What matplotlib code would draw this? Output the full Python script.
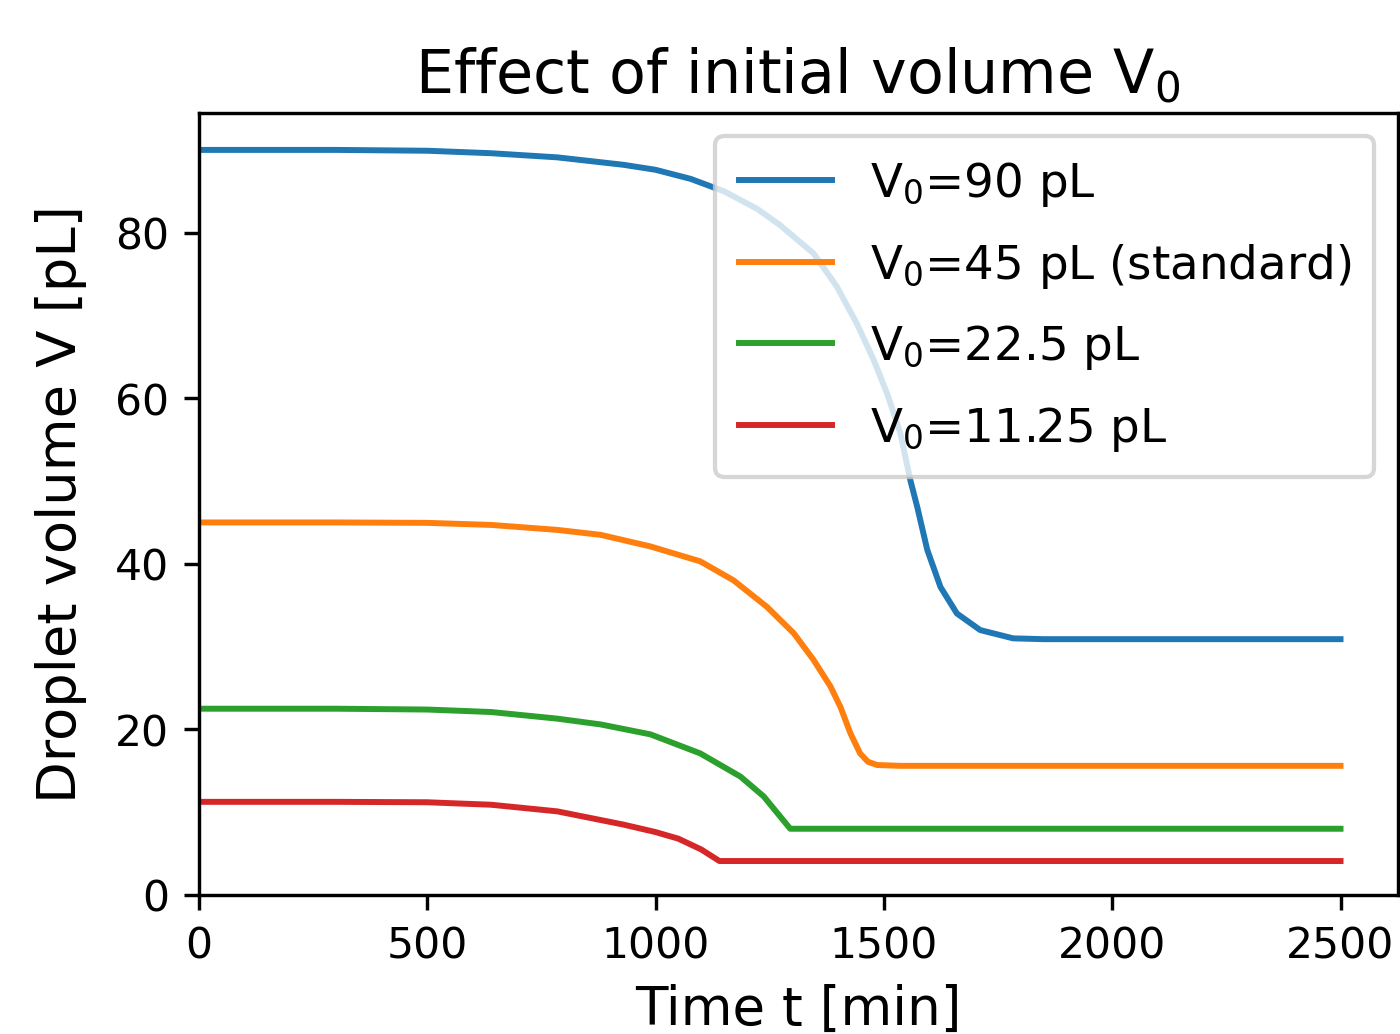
"""Droplet volume vs time for several initial volumes V0."""

import matplotlib
matplotlib.use("Agg")
import matplotlib.pyplot as plt

DPI = 306

# values (time in min, volume in pL)
t_90 = [0, 300, 500, 640, 785, 930, 1000, 1077, 1150, 1222, 1273, 1346, 1397,
        1441, 1478, 1507, 1536, 1558, 1573, 1595, 1624, 1660, 1711, 1783,
        1850, 2500]
v_90 = [90.0, 90.0, 89.9, 89.6, 89.1, 88.2, 87.6, 86.5, 85.0, 82.9, 80.9,
        77.5, 73.5, 69.0, 64.6, 60.6, 55.8, 50.1, 46.9, 41.7, 37.2, 34.0,
        32.0, 31.0, 30.9, 30.9]

t_45 = [0, 300, 500, 640, 785, 880, 989, 1098, 1171, 1244, 1303, 1346, 1383,
        1405, 1427, 1448, 1465, 1485, 1536, 2500]
v_45 = [45.0, 45.0, 44.95, 44.7, 44.1, 43.5, 42.1, 40.3, 38.0, 34.8, 31.6,
        28.4, 25.2, 22.7, 19.5, 17.1, 16.1, 15.7, 15.6, 15.6]

t_22 = [0, 300, 500, 640, 785, 880, 989, 1098, 1186, 1237, 1295, 2500]
v_22 = [22.5, 22.5, 22.4, 22.1, 21.3, 20.6, 19.4, 17.1, 14.3, 11.9, 8.0, 8.0]

t_11 = [0, 300, 500, 640, 785, 930, 1000, 1050, 1100, 1140, 2500]
v_11 = [11.25, 11.25, 11.2, 10.9, 10.1, 8.5, 7.6, 6.8, 5.5, 4.1, 4.1]

labels = [
    r"$V_0$=90 pL",
    r"$V_0$=45 pL (standard)",
    r"$V_0$=22.5 pL",
    r"$V_0$=11.25 pL",
]

plt.rcParams["mathtext.default"] = "regular"

fig = plt.figure(figsize=(1400.4 / DPI, 1034.4 / DPI), dpi=DPI)
ax = fig.add_axes([0.142, 0.1344, 0.856, 0.7563])

for t, v, lab in zip([t_90, t_45, t_22, t_11], [v_90, v_45, v_22, v_11], labels):
    ax.plot(t, v, lw=1.4, label=lab)

ax.set_xlim(0, 2625)
ax.set_ylim(0, 94.5)
ax.set_xticks([0, 500, 1000, 1500, 2000, 2500])
ax.set_yticks([0, 20, 40, 60, 80])
ax.tick_params(labelsize=10)
ax.set_xlabel("Time t [min]", fontsize=12.5)
ax.set_ylabel("Droplet volume V [pL]", fontsize=12.8, labelpad=6.5)
ax.set_title(r"Effect of initial volume $V_0$", fontsize=14.2, pad=4.5)
ax.legend(loc="upper right", fontsize=11, labelspacing=0.7, borderpad=0.5)

fig.savefig("out.png", dpi=DPI)
